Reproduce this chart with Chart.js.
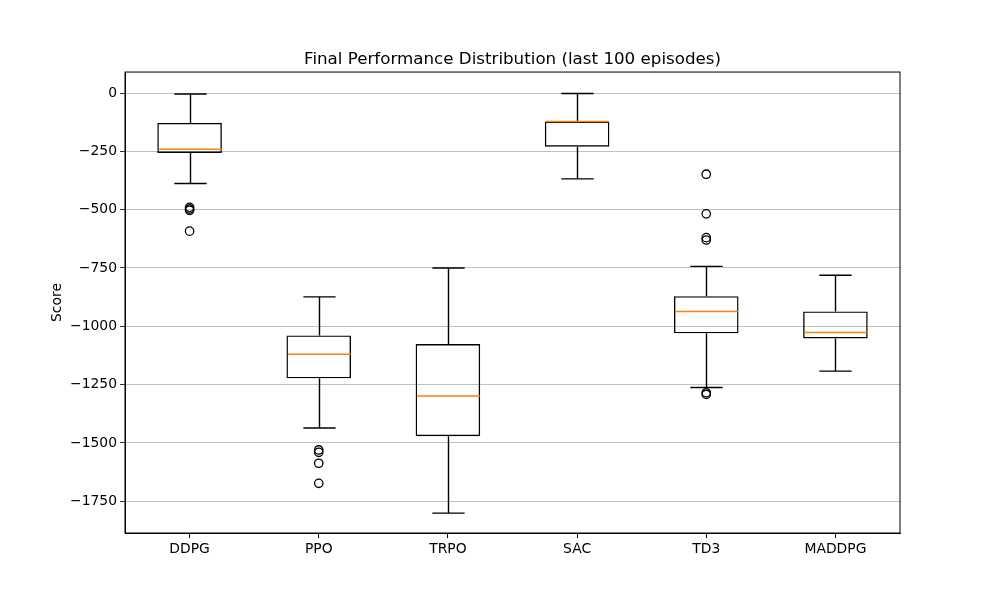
<!DOCTYPE html>
<html>
<head>
<meta charset="utf-8">
<script src="https://cdn.jsdelivr.net/npm/chart.js@4.4.1/dist/chart.umd.min.js"></script>
<style>
  html, body { margin: 0; padding: 0; background: #fff; }
  #wrap { width: 1000px; height: 600px; }
</style>
</head>
<body>
<div id="wrap"><canvas id="chart_box" width="1000" height="600"></canvas></div>
<script>
// valori
var algorithms = ['DDPG', 'PPO', 'TRPO', 'SAC', 'TD3', 'MADDPG'];
var whiskerHigh = [-4, -874, -750, -2, -743, -781];
var q3Values = [-128, -1039, -1076, -122, -871, -936];
var medianValues = [-241, -1120, -1299, -122, -936, -1026];
var q1Values = [-257, -1223, -1471, -230, -1030, -1052];
var whiskerLow = [-388, -1436, -1801, -368, -1262, -1192];
var outlierValues = [
    [-490, -497, -503, -592],
    [-1530, -1540, -1587, -1673],
    [],
    [],
    [-348, -518, -620, -630, -1285, -1292],
    []
];
var yTicks = [0, -250, -500, -750, -1000, -1250, -1500, -1750];

var boxData = algorithms.map(function (a, i) { return [q1Values[i], q3Values[i]]; });
var outlierPoints = [];
for (var i = 0; i < algorithms.length; ++i) {
    for (var j = 0; j < outlierValues[i].length; ++j) {
        outlierPoints.push({ x: algorithms[i], y: outlierValues[i][j] });
    }
}

// mustati, capete si mediana desenate peste scale
var boxExtras = {
    id: 'boxExtras',
    afterDatasetsDraw: function (chart) {
        var ctx = chart.ctx;
        var x = chart.scales.x, y = chart.scales.y;
        var capHalf = (x.getPixelForValue(1) - x.getPixelForValue(0)) * 0.125;
        var boxHalf = (x.getPixelForValue(1) - x.getPixelForValue(0)) * 0.25;
        ctx.save();
        ctx.lineWidth = 1.4;
        for (var i = 0; i < algorithms.length; ++i) {
            var cx = Math.round(x.getPixelForValue(i)) + 0.5;
            ctx.strokeStyle = '#000';
            ctx.beginPath();
            ctx.moveTo(cx, y.getPixelForValue(q3Values[i]));
            ctx.lineTo(cx, y.getPixelForValue(whiskerHigh[i]));
            ctx.moveTo(cx, y.getPixelForValue(q1Values[i]));
            ctx.lineTo(cx, y.getPixelForValue(whiskerLow[i]));
            ctx.moveTo(cx - capHalf, y.getPixelForValue(whiskerHigh[i]));
            ctx.lineTo(cx + capHalf, y.getPixelForValue(whiskerHigh[i]));
            ctx.moveTo(cx - capHalf, y.getPixelForValue(whiskerLow[i]));
            ctx.lineTo(cx + capHalf, y.getPixelForValue(whiskerLow[i]));
            ctx.stroke();
            ctx.strokeStyle = '#ff7f0e';
            ctx.lineWidth = 1.5;
            ctx.beginPath();
            ctx.moveTo(cx - boxHalf + 1, y.getPixelForValue(medianValues[i]));
            ctx.lineTo(cx + boxHalf - 1, y.getPixelForValue(medianValues[i]));
            ctx.stroke();
            ctx.lineWidth = 1.4;
        }
        var area = chart.chartArea;
        ctx.strokeStyle = '#000';
        ctx.lineWidth = 1;
        ctx.strokeRect(area.left, area.top, area.right - area.left, area.bottom - area.top);
        ctx.restore();
    }
};

var box_chart_ctx = document.getElementById('chart_box').getContext('2d');
var box_chart = new Chart(box_chart_ctx, {
    type: 'bar',
    data: {
        labels: algorithms,
        datasets: [{
            label: 'box',
            data: boxData,
            backgroundColor: 'rgba(255,255,255,0)',
            borderColor: '#000',
            borderWidth: 1.4,
            borderSkipped: false,
            barPercentage: 0.5,
            categoryPercentage: 1.0
        }, {
            type: 'line',
            label: 'outliers',
            data: outlierPoints,
            showLine: false,
            pointStyle: 'circle',
            pointRadius: 4.2,
            pointBorderWidth: 1.3,
            pointBorderColor: '#000',
            pointBackgroundColor: 'rgba(255,255,255,0)'
        }]
    },
    options: {
        responsive: false,
        animation: false,
        layout: { padding: { left: 45, right: 100, top: 0, bottom: 0 } },
        plugins: {
            legend: { display: false },
            tooltip: { enabled: false },
            title: {
                display: true,
                fullSize: false,
                text: 'Final Performance Distribution (last 100 episodes)',
                color: '#000',
                font: { family: 'DejaVu Sans', size: 16.7, weight: 'normal' },
                padding: { top: 50, bottom: 2 }
            }
        },
        scales: {
            x: {
                offset: true,
                grid: { display: true, drawOnChartArea: false, offset: false, tickColor: '#000', tickLength: 5 },
                border: { color: '#000' },
                ticks: { color: '#000', padding: 3, font: { family: 'DejaVu Sans', size: 13.9 } },
                afterFit: function (scale) { scale.height = 67; }
            },
            y: {
                min: -1886,
                max: 90,
                grid: { color: '#b0b0b0', lineWidth: 0.8, tickColor: '#000', tickLength: 5 },
                border: { color: '#000' },
                title: {
                    display: true,
                    text: 'Score',
                    color: '#000',
                    font: { family: 'DejaVu Sans', size: 13.9 }
                },
                ticks: {
                    color: '#000',
                    padding: 3,
                    font: { family: 'DejaVu Sans', size: 13.9 },
                    callback: function (v) { return v.toString().replace('-', '\u2212'); }
                },
                afterBuildTicks: function (scale) {
                    scale.ticks = yTicks.map(function (v) { return { value: v }; });
                },
                afterFit: function (scale) { scale.width = 80; }
            }
        }
    },
    plugins: [boxExtras]
});
</script>
</body>
</html>
